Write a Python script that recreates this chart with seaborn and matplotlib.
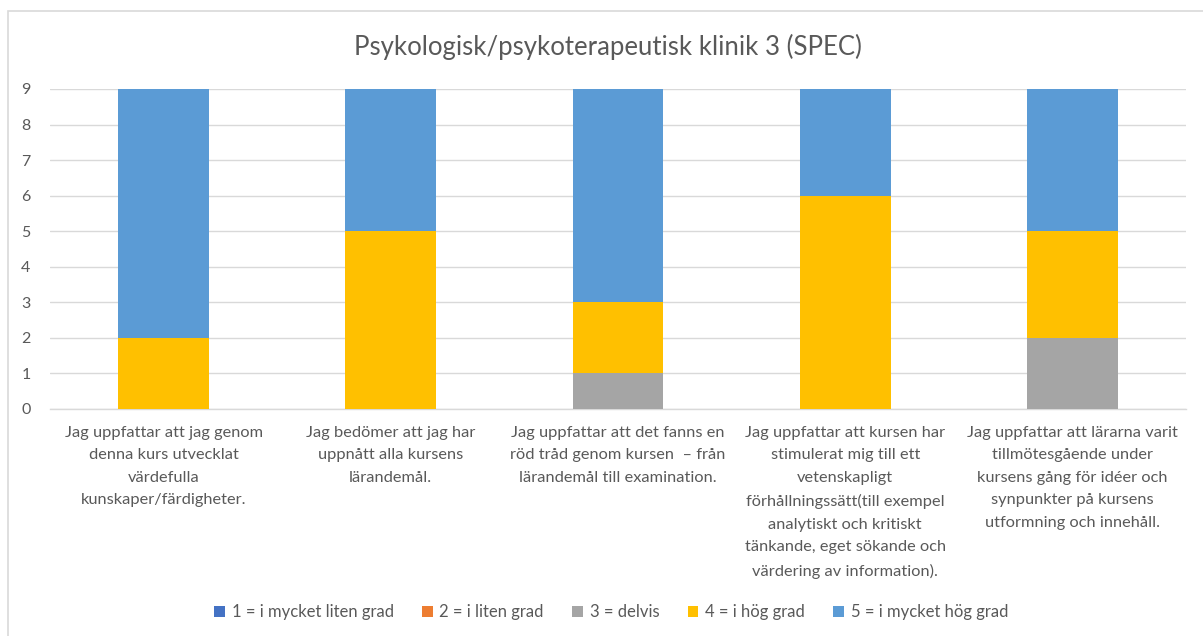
import matplotlib
matplotlib.use("Agg")
import matplotlib.pyplot as plt
from matplotlib.patches import Patch, Rectangle
import seaborn as sns
import pandas as pd
import numpy as np

categories = [
    "Jag uppfattar att jag genom\ndenna kurs utvecklat\nvärdefulla\nkunskaper/färdigheter.",
    "Jag bedömer att jag har\nuppnått alla kursens\nlärandemål.",
    "Jag uppfattar att det fanns en\nröd tråd genom kursen  – från\nlärandemål till examination.",
    "Jag uppfattar att kursen har\nstimulerat mig till ett\nvetenskapligt\nförhållningssätt(till exempel\nanalytiskt och kritiskt\ntänkande, eget sökande och\nvärdering av information).",
    "Jag uppfattar att lärarna varit\ntillmötesgående under\nkursens gång för idéer och\nsynpunkter på kursens\nutformning och innehåll.",
]
series_names = ["1 = i mycket liten grad", "2 = i liten grad", "3 = delvis",
                "4 = i hög grad", "5 = i mycket hög grad"]
s1 = [0, 0, 0, 0, 0]
s2 = [0, 0, 0, 0, 0]
s3 = [0, 0, 1, 0, 2]
s4 = [2, 5, 2, 6, 3]
s5 = [7, 4, 6, 3, 4]
title = "Psykologisk/psykoterapeutisk klinik 3 (SPEC)"
colors = ["#4472C4", "#ED7D31", "#A5A5A5", "#FFC000", "#5B9BD5"]

sns.set_theme(style="white")
plt.rcParams["font.family"] = ["Lato", "DejaVu Sans"]
text_color = "#595959"

fig = plt.figure(figsize=(12.03, 6.36), dpi=100)
ax = fig.add_axes([50/1203, 1-409/636, (1186-50)/1203, (409-89)/636])

values = np.array([s1, s2, s3, s4, s5], dtype=float)
cum = np.cumsum(values, axis=0)
idx = list(range(len(categories)))
# draw from top layer to bottom so lower layers overlay
for k in range(len(series_names) - 1, -1, -1):
    df = pd.DataFrame({"x": idx, "y": cum[k]})
    sns.barplot(data=df, x="x", y="y", color=colors[k], width=0.4,
                saturation=1, ax=ax, linewidth=0, zorder=3)

ax.set_ylim(0, 9)
ax.set_yticks(range(0, 10))
ax.set_xlim(-0.5, len(categories) - 0.5)
ax.yaxis.grid(True, color="#D9D9D9", linewidth=1, zorder=0)
ax.set_axisbelow(True)
for sp in ["top", "right", "left"]:
    ax.spines[sp].set_visible(False)
ax.spines["bottom"].set_color("#D9D9D9")
ax.spines["bottom"].set_linewidth(1)
ax.set_xlabel("")
ax.set_ylabel("")
ax.set_xticks(idx)
ax.set_xticklabels(categories, fontsize=11.8, color=text_color, linespacing=1.78, va="top")
ax.tick_params(axis="x", length=0, pad=12)
ax.tick_params(axis="y", length=0, pad=14, labelsize=11.5, labelcolor=text_color)
for lbl in ax.get_yticklabels():
    lbl.set_horizontalalignment("right")

fig.text(608/1203, 1-47/636, title, ha="center", va="center", fontsize=18.5, color=text_color)

handles = [Patch(facecolor=c, edgecolor="none") for c in colors]
fig.legend(handles, series_names, loc="center", bbox_to_anchor=(611/1203, 1-612/636),
           ncol=5, frameon=False, fontsize=12, labelcolor=text_color,
           handlelength=0.65, handleheight=0.65, handletextpad=0.4, columnspacing=1.7)

fig.patches.append(Rectangle((8/1203, -0.05), 1.0, 1-11/636+0.05, transform=fig.transFigure,
                             fill=False, edgecolor="#D9D9D9", linewidth=1.2, zorder=0))

fig.savefig("out.png", dpi=100)
